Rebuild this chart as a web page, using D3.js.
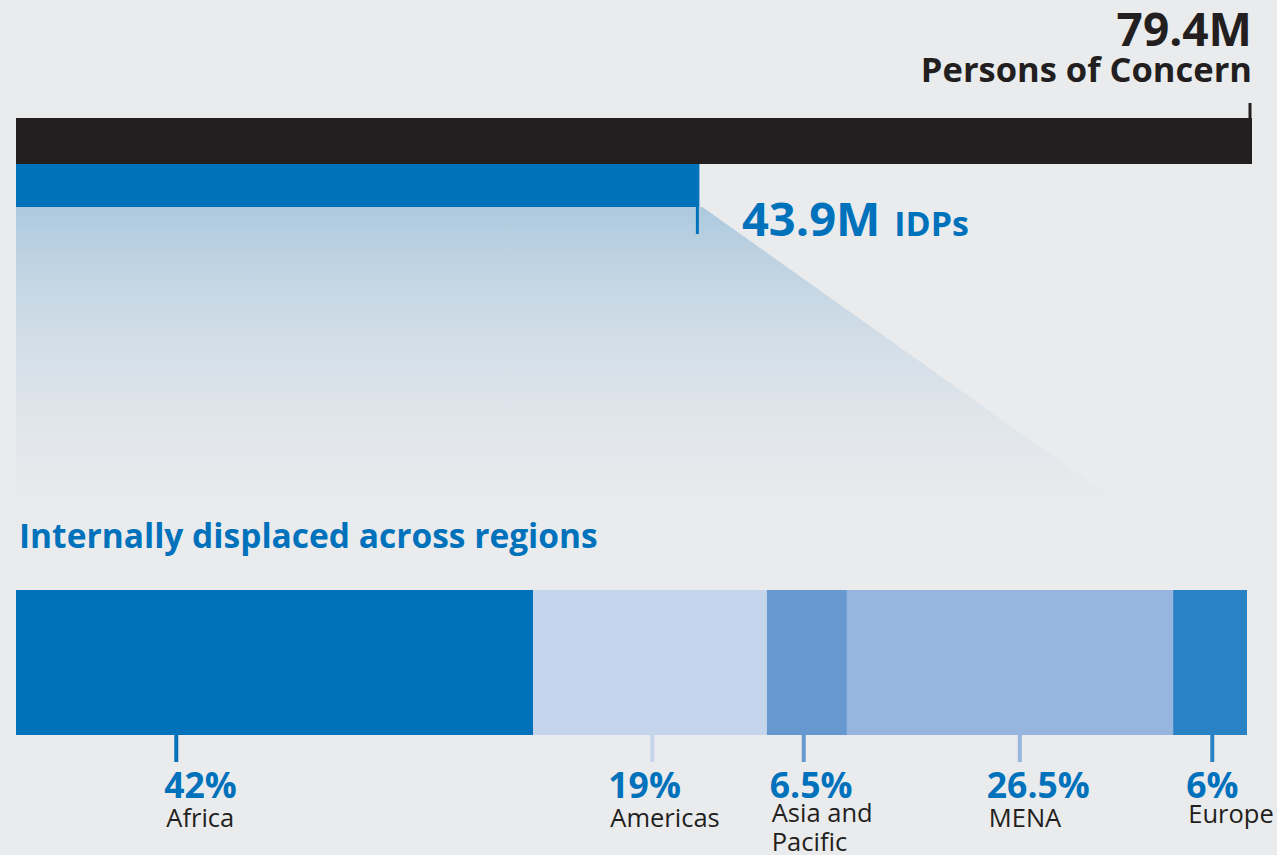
<!DOCTYPE html>
<html>
<head>
<meta charset="utf-8">
<script src="https://cdn.jsdelivr.net/npm/d3@7"></script>
<style>
    body { margin: 0; background: #eaebed; }
    svg { display: block; font-family: "Open Sans", Lato, sans-serif; }
</style>
</head>
<body>
<div id="chart_div"></div>
<script>
// headline totals (millions)
const totalLabel = "Persons of Concern";
const totalValue = 79.4;
const idpLabel = "IDPs";
const idpValue = 43.9;

// regional split of IDPs (%)
const regions = ["Africa", "Americas", "Asia and Pacific", "MENA", "Europe"];
const shares = [42, 19, 6.5, 26.5, 6];
const shareLabels = ["42%", "19%", "6.5%", "26.5%", "6%"];
const regionColors = ["#0072bc", "#c5d5ec", "#6699d0", "#96b5df", "#2a82c6"];

const width = 1277;
const height = 855;
const left = 16;
const blue = "#0072bc";
const dark = "#231f20";

const svg = d3.select("#chart_div")
    .append("svg")
    .attr("width", width)
    .attr("height", height);

const x = d3.scaleLinear()
    .domain([0, totalValue])
    .range([left, 1252]);

// fade-out funnel under the IDP bar
const defs = svg.append("defs");
const grad = defs.append("linearGradient")
    .attr("id", "fade")
    .attr("x1", 0).attr("y1", 0)
    .attr("x2", 0).attr("y2", 1);
grad.append("stop").attr("offset", 0).attr("stop-color", "#adc9de").attr("stop-opacity", 1);
grad.append("stop").attr("offset", 1).attr("stop-color", "#eaebed").attr("stop-opacity", 0.2);

const funnelTop = 207, funnelBottom = 537;
svg.append("path")
    .attr("d", `M${x(0)},${funnelTop} L${x(idpValue) + 3},${funnelTop} L1167,${funnelBottom} L${x(0)},${funnelBottom} Z`)
    .attr("fill", "url(#fade)");

// total bar
svg.append("rect")
    .attr("x", x(0))
    .attr("y", 118)
    .attr("width", x(totalValue) - x(0))
    .attr("height", 46)
    .attr("fill", dark);

svg.append("line")
    .attr("x1", x(totalValue) - 2).attr("x2", x(totalValue) - 2)
    .attr("y1", 103).attr("y2", 118)
    .attr("stroke", dark).attr("stroke-width", 3);

svg.append("text")
    .attr("x", x(totalValue))
    .attr("y", 46)
    .attr("text-anchor", "end")
    .attr("font-size", 46)
    .attr("font-weight", 700)
    .attr("fill", dark)
    .text(totalValue + "M");

svg.append("text")
    .attr("x", x(totalValue))
    .attr("y", 82)
    .attr("text-anchor", "end")
    .attr("font-size", 34.5)
    .attr("font-weight", 700)
    .attr("fill", dark)
    .text(totalLabel);

// IDP bar
svg.append("rect")
    .attr("x", x(0))
    .attr("y", 164)
    .attr("width", x(idpValue) - x(0))
    .attr("height", 43)
    .attr("fill", blue);

svg.append("line")
    .attr("x1", x(idpValue) - 2).attr("x2", x(idpValue) - 2)
    .attr("y1", 207).attr("y2", 234)
    .attr("stroke", blue).attr("stroke-width", 3);

const idpText = svg.append("text")
    .attr("x", 742)
    .attr("y", 236)
    .attr("fill", blue)
    .attr("font-weight", 700);
idpText.append("tspan").attr("font-size", 47).text(idpValue + "M");
idpText.append("tspan").attr("font-size", 34).attr("dx", 14).text(idpLabel);

svg.append("text")
    .attr("x", 19)
    .attr("y", 548)
    .attr("font-size", 33.5)
    .attr("font-weight", 700)
    .attr("fill", blue)
    .text("Internally displaced across regions");

// stacked regional bar
const xs = d3.scaleLinear()
    .domain([0, d3.sum(shares)])
    .range([left, 1247]);

const cum = d3.cumsum(shares);
const segs = regions.map((r, i) => ({
    region: r,
    share: shares[i],
    label: shareLabels[i],
    color: regionColors[i],
    start: cum[i] - shares[i],
    end: cum[i]
}));

// where each label's tick sits inside its segment, and text offset from tick
const tickAt = [0.31, 0.51, 0.46, 0.53, 0.53];
const textShift = [-12, -44, -34, -33, -26];
const labelY = [827, 827, 822, 827, 823];

svg.append("g")
    .selectAll("rect")
    .data(segs)
    .enter()
    .append("rect")
    .attr("x", d => xs(d.start))
    .attr("y", 590)
    .attr("width", d => xs(d.end) - xs(d.start))
    .attr("height", 145)
    .attr("fill", d => d.color);

const lab = svg.append("g")
    .selectAll("g")
    .data(segs)
    .enter()
    .append("g")
    .attr("transform", (d, i) => `translate(${xs(d.start) + tickAt[i] * (xs(d.end) - xs(d.start))},0)`);

lab.append("line")
    .attr("y1", 735).attr("y2", 762)
    .attr("stroke", d => d.color)
    .attr("stroke-width", 4);

lab.append("text")
    .attr("x", (d, i) => textShift[i])
    .attr("y", 798)
    .attr("font-size", 35.5)
    .attr("font-weight", 700)
    .attr("fill", blue)
    .text(d => d.label);

lab.append("text")
    .attr("x", (d, i) => textShift[i] + 2)
    .attr("y", (d, i) => labelY[i])
    .attr("font-size", 25.5)
    .attr("fill", dark)
    .selectAll("tspan")
    .data(d => d.region === "Asia and Pacific" ? ["Asia and", "Pacific"] : [d.region])
    .enter()
    .append("tspan")
    .attr("x", function () { return d3.select(this.parentNode).attr("x"); })
    .attr("dy", (d, i) => i ? 29 : 0)
    .text(d => d);
</script>
</body>
</html>
